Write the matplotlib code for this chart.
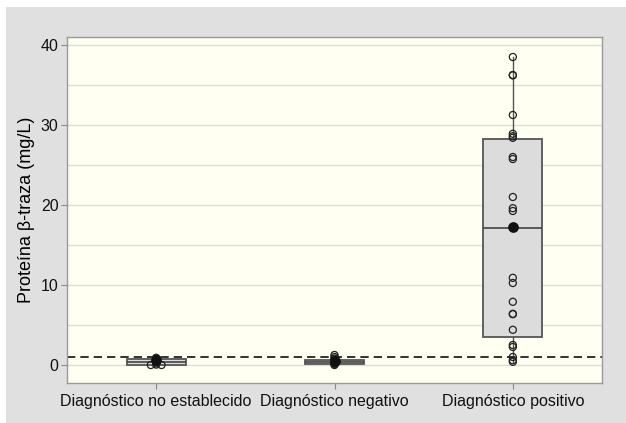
import matplotlib.pyplot as plt
from matplotlib.patches import Rectangle

plt.rcParams['font.family'] = ['Liberation Sans', 'DejaVu Sans']

# datos
grupos = ['Diagnóstico no establecido', 'Diagnóstico negativo', 'Diagnóstico positivo']
q1 = [0.05, 0.15, 3.5]
mediana = [0.35, 0.4, 17.1]
q3 = [0.8, 0.6, 28.25]
bigote_min = [0.0, 0.0, 0.4]
bigote_max = [0.9, 1.25, 38.5]
media = [0.6, 0.55, 17.25]

puntos1 = [0.0, 0.0, 0.05, 0.2, 0.35, 0.5, 0.7, 0.8, 0.9]
desplaz1 = [-0.03, 0.03, 0.0, 0.0, 0.0, 0.0, 0.0, 0.0, 0.0]
puntos2 = [0.0, 0.1, 0.2, 0.3, 0.4, 0.5, 0.6, 0.7, 0.8, 1.0, 1.25]
puntos3 = [38.5, 36.25, 36.2, 31.25, 28.9, 28.6, 28.4, 26.0, 25.75, 21.0,
           19.6, 19.25, 10.9, 10.25, 7.9, 6.4, 6.35, 4.4, 2.5, 2.25, 1.0, 0.6, 0.4]
corte = 1.0

fig = plt.figure(figsize=(6.26, 4.23), dpi=100, facecolor='white')
fondo = Rectangle((6 / 626, 0), 1, 1 - 7 / 423, transform=fig.transFigure,
                  facecolor='#e0e0e0', edgecolor='none', zorder=-10)
fig.add_artist(fondo)
ax = fig.add_axes([67 / 626, 1 - 383 / 423, (602 - 67) / 626, (383 - 37) / 423])
ax.set_facecolor('#fffff2')

stats = []
for i in range(3):
    stats.append({'med': mediana[i], 'q1': q1[i], 'q3': q3[i],
                  'whislo': bigote_min[i], 'whishi': bigote_max[i], 'fliers': []})

ax.bxp(stats, positions=[1, 2, 3], widths=0.33, patch_artist=True, showcaps=False,
       boxprops=dict(facecolor='#dcdcdc', edgecolor='#555555', linewidth=1.3),
       medianprops=dict(color='#444444', linewidth=1.2),
       whiskerprops=dict(color='#555555', linewidth=1.0), zorder=3)

ax.scatter([1 + d for d in desplaz1], puntos1, s=26, facecolors='none', edgecolors='#222222',
           linewidths=0.9, zorder=4)
ax.scatter([2] * len(puntos2), puntos2, s=26, facecolors='none', edgecolors='#222222',
           linewidths=0.9, zorder=4)
ax.scatter([3] * len(puntos3), puntos3, s=26, facecolors='none', edgecolors='#222222',
           linewidths=0.9, zorder=4)
ax.scatter([1, 2, 3], media, s=45, color='#111111', zorder=5)

ax.axhline(corte, color='#111111', linestyle=(0, (5, 3)), linewidth=1.2, zorder=2)

ax.set_xlim(0.5, 3.5)
ax.set_ylim(-2.25, 41)
ax.set_yticks([0, 10, 20, 30, 40])
ax.set_yticks(range(0, 45, 5), minor=True)
ax.tick_params(axis='y', which='minor', length=0)
ax.grid(True, which='both', axis='y', color='#dcdcdc', linewidth=1.0, zorder=0)
ax.set_axisbelow(True)
ax.set_xticks([1, 2, 3])
ax.set_xticklabels(grupos)
ax.tick_params(axis='x', labelsize=11.5, pad=4)
ax.tick_params(axis='y', labelsize=11.5, pad=2)
ax.tick_params(colors='#111111', length=4, width=0.8)
ax.tick_params(axis='both', color='#888888')
ax.set_ylabel('Proteína β-traza (mg/L)', fontsize=13, labelpad=4)
for s in ax.spines.values():
    s.set_color('#999999')
    s.set_linewidth(1.0)

fig.savefig('out.png', dpi=100, facecolor=fig.get_facecolor())
